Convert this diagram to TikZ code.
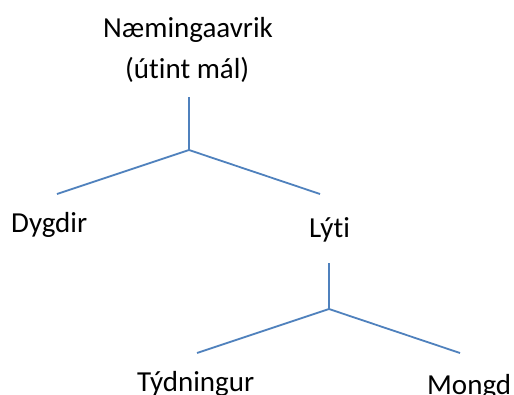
\documentclass[tikz,border=0pt]{standalone}
\usepackage{fontspec}
\setmainfont[Ligatures=NoCommon]{Carlito}
\definecolor{lineblue}{HTML}{4F81BD}
\begin{document}
\begin{tikzpicture}[x=1pt,y=-1pt,
  lab/.style={inner sep=0pt, anchor=base west, font=\fontsize{29}{35}\selectfont},
  conn/.style={draw=lineblue, line width=1.8pt}]
\useasboundingbox (0,0) rectangle (514,394);
\node[lab] (rootA) at (103,37) {Næmingaavrik};
\node[lab] (rootB) at (125,78) {(útint mál)};
\node[lab] (dygdir) at (11,232) {Dygdir};
\node[lab] (lyti) at (309,237) {Lýti};
\node[lab] (tydningur) at (137,391) {Týdningur};
\node[lab] (mongd) at (427,394) {Mongd};
\coordinate (topA) at (189,97);
\coordinate (juncA) at (189,150);
\coordinate (leftA) at (57,194);
\coordinate (rightA) at (320,194);
\coordinate (topB) at (329,263);
\coordinate (juncB) at (329,309);
\coordinate (leftB) at (197,353);
\coordinate (rightB) at (460,353);
\draw[conn] (topA) -- (juncA);
\draw[conn] (juncA) -- (leftA);
\draw[conn] (juncA) -- (rightA);
\draw[conn] (topB) -- (juncB);
\draw[conn] (juncB) -- (leftB);
\draw[conn] (juncB) -- (rightB);
\end{tikzpicture}
\end{document}
